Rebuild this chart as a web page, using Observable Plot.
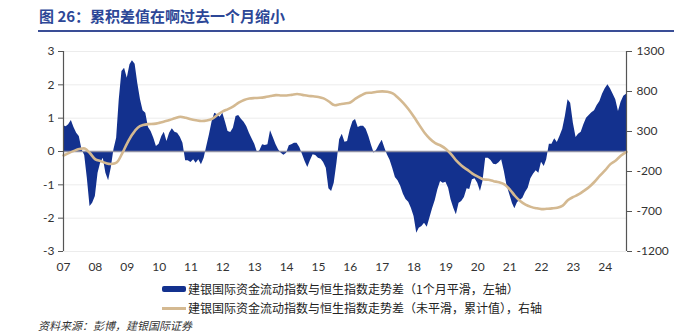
<!DOCTYPE html>
<html><head><meta charset="utf-8">
<script src="https://cdn.jsdelivr.net/npm/d3@7"></script>
<script src="https://cdn.jsdelivr.net/npm/@observablehq/plot@0.6"></script>
<style>
body{margin:0;background:#fff;width:674px;height:334px;overflow:hidden;position:relative;font-family:"Noto Sans CJK SC","Noto Sans",sans-serif}
#title{position:absolute;left:39px;top:6px;font-size:15px;font-weight:bold;color:#2d4797;white-space:nowrap;line-height:20px}
#rule{position:absolute;left:38px;right:0;top:30px;height:1.5px;background:#3a4e96}
#chart{position:absolute;left:0;top:35px}
.leg{position:absolute;left:162px;font-size:12px;color:#222;white-space:nowrap;display:flex;align-items:center;line-height:16px}
.sw1{width:24px;height:6px;background:#13318e;border-radius:2px;margin-right:2px}
.sw2{width:24px;height:3px;background:#d4b991;margin-right:2px}
#src{position:absolute;left:38px;top:319px;font-size:11px;line-height:13px;font-style:italic;color:#333;white-space:nowrap}
</style></head>
<body>
<div id="title">图 26：累积差值在啊过去一个月缩小</div>
<div id="rule"></div>
<div id="chart"></div>
<div class="leg" style="top:281px"><div class="sw1"></div><span id="l1"></span></div>
<div class="leg" style="top:300px"><div class="sw2"></div><span id="l2"></span></div>
<div id="src">资料来源：彭博，建银国际证券</div>
<script>
// Monthly series (left axis), from Jan 2007
const areaStart = [2007, 0];
const areaValues = [
 0.77,0.74,0.80,0.93,0.72,0.55,0.45,0.05,-0.12,-0.8,-1.65,-1.55,
 -1.35,-0.65,-0.35,-0.2,-0.65,-0.88,-0.5,0.05,0.4,1.55,2.4,2.5,
 2.2,2.6,2.72,2.62,2.05,1.56,1.22,1.15,0.72,0.6,0.4,0.15,
 0.22,0.45,0.58,0.3,0.55,0.68,0.58,0.55,0.43,0.25,-0.28,-0.28,
 -0.33,-0.25,-0.35,-0.25,-0.4,-0.2,0.15,0.5,0.9,1.15,1.1,1.03,
 1.15,0.88,0.6,0.57,0.7,1.05,1.08,0.97,0.88,0.75,0.55,0.38,
 0.22,-0.03,0.02,0.2,0.18,0.2,0.62,0.42,0.21,0.05,-0.05,-0.11,
 -0.05,0.17,0.2,0.25,0.25,0.12,-0.08,-0.3,-0.48,-0.28,-0.1,-0.12,
 -0.2,-0.23,-0.33,-0.5,-1.12,-1.2,-0.95,-0.35,0.35,0.52,0.28,0.3,
 0.65,0.9,0.96,0.72,0.76,0.76,0.67,0.45,0.18,-0.05,0.05,0.2,
 0.34,0.1,-0.1,-0.26,-0.5,-0.78,-0.88,-1.04,-1.28,-1.44,-1.52,-1.7,
 -1.95,-2.45,-2.3,-2.25,-2.15,-2.27,-2.0,-1.72,-1.47,-1.15,-0.9,-0.95,
 -0.92,-1.1,-1.45,-1.7,-1.9,-1.55,-1.5,-1.38,-1.12,-1.14,-0.85,-0.82,
 -0.95,-1.2,-0.9,-0.2,-0.2,-0.27,-0.38,-0.4,-0.34,-0.25,-0.6,-1.02,
 -1.28,-1.55,-1.72,-1.53,-1.47,-1.4,-1.23,-1.1,-0.82,-0.68,-0.58,-0.65,
 -0.32,-0.45,-0.25,0.22,0.22,0.38,0.27,0.46,0.67,1.05,1.55,1.45,
 0.85,0.42,0.52,0.58,0.8,1.0,1.08,1.16,1.22,1.38,1.5,1.72,
 1.88,2.0,1.88,1.72,1.55,1.2,1.48,1.66,1.72
];
// Bi-monthly cumulative series (right axis), from Jan 2007
const lineStepMonths = 2;
const lineValues = [
 0,30,58,80,87,28,-48,-70,-95,-106,
 -88,20,155,265,348,380,392,395,408,425,
 443,466,485,472,452,440,431,437,458,508,
 552,580,614,660,694,712,718,721,730,743,
 755,750,750,758,768,758,746,740,732,714,
 675,630,640,650,663,710,750,780,785,796,
 801,796,776,722,656,575,481,383,285,210,
 155,125,82,18,-65,-128,-177,-226,-264,-297,
 -304,-321,-335,-360,-422,-503,-570,-614,-642,-659,
 -670,-666,-661,-652,-626,-557,-518,-487,-442,-393,
 -328,-253,-184,-108,-62,-1,45
];
const leftTicks = [-3,-2,-1,0,1,2,3];
const rightTicks = [-1200,-700,-200,300,800,1300];
const yearLabels = d3.range(2007, 2025);
const legend1 = "建银国际资金流动指数与恒生指数走势差（1个月平滑，左轴）";
const legend2 = "建银国际资金流动指数与恒生指数走势差（未平滑，累计值），右轴";

document.getElementById("l1").textContent = legend1;
document.getElementById("l2").textContent = legend2;

const areaData = areaValues.map((v,i)=>({date:new Date(Date.UTC(areaStart[0], areaStart[1]+i, 1)), value:v}));
const lineData = lineValues.map((v,i)=>({date:new Date(Date.UTC(2007, i*lineStepMonths, 1)), value:v}));
const rMin = rightTicks[0], rMax = rightTicks[rightTicks.length-1];
const toLeft = v => -3 + (v - rMin) * 6 / (rMax - rMin);
const fromLeft = y => rMin + (y + 3) * (rMax - rMin) / 6;
const x0 = areaData[0].date, x1 = areaData[areaData.length-1].date;
const fmt = d => String(d).replace("−","-");

const chart = Plot.plot({
  width: 674, height: 240,
  marginTop: 16, marginBottom: 24, marginLeft: 63, marginRight: 48,
  style: {fontFamily: "Lato, 'DejaVu Sans', sans-serif", fontSize: "12px", color: "#333", background: "transparent"},
  x: {type: "utc", domain: [x0, x1]},
  y: {domain: [-3, 3]},
  marks: [
    Plot.ruleY(leftTicks, {stroke: "#ececec", strokeWidth: 1}),
    Plot.areaY(areaData, {x: "date", y: "value", fill: "#13318e"}),
    Plot.ruleY([0], {stroke: "#8e90a4", strokeWidth: 1.6}),
    Plot.lineY(lineData, {x: "date", y: d => toLeft(d.value), stroke: "#d4b991", strokeWidth: 2.6, curve: "catmull-rom"}),
    Plot.ruleX([x0], {stroke: "#555", strokeWidth: 1.2}),
    Plot.ruleX([x1], {stroke: "#555", strokeWidth: 1.2}),
    Plot.axisY(leftTicks, {anchor: "left", tickSize: 5, tickPadding: 4, tickFormat: d => fmt(d), label: null, stroke: "#555"}),
    Plot.axisY(rightTicks.map(toLeft), {anchor: "right", tickSize: 5, tickPadding: 5, tickFormat: d => fmt(Math.round(fromLeft(d))), label: null, stroke: "#555"}),
    Plot.axisX(yearLabels.map(y => new Date(Date.UTC(y, 0, 1))), {tickSize: 0, tickPadding: 11, tickFormat: d => d3.utcFormat("%y")(d), label: null})
  ]
});
document.getElementById("chart").appendChild(chart);
</script>
</body></html>
